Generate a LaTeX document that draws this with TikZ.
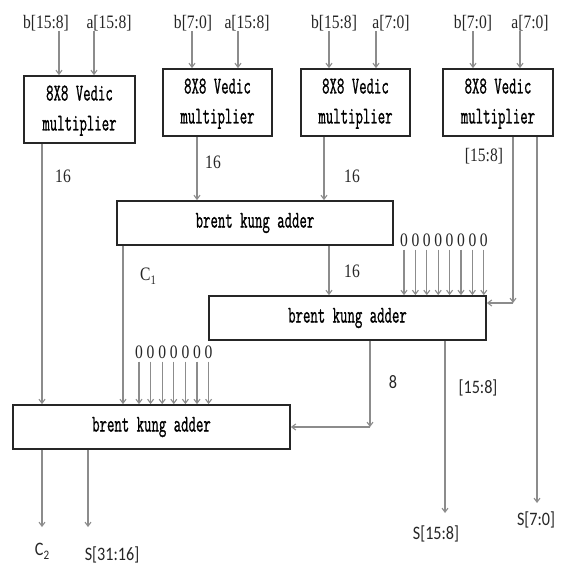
\documentclass[tikz,border=0pt]{standalone}
\usepackage{graphicx}
\usepackage{fontspec}
\setmainfont{Liberation Serif}
\newfontfamily\carl{Carlito}
\newfontfamily\monob[FakeBold=1.3]{Latin Modern Mono}
\usetikzlibrary{arrows.meta}
\newcommand\serl[1]{\scalebox{0.82}[1]{\fontsize{19}{20}\selectfont #1}}
\newcommand\sanl[1]{\scalebox{0.85}[1]{\carl\fontsize{19}{20}\selectfont #1}}
\newcommand\boxt[1]{\scalebox{0.6}[1]{\monob\fontsize{24}{30}\selectfont #1}}
\newcommand\vedic{\boxt{\begin{tabular}{@{}c@{}}8X8 Vedic\\multiplier\end{tabular}}}
\begin{document}
\begin{tikzpicture}[x=1pt,y=-1pt,
  blk/.style={draw=black!85,line width=1.8pt,rectangle,inner sep=0pt,fill=white},
  mul/.style={blk,minimum height=67pt},
  bka/.style={blk,minimum width=277pt,minimum height=44pt},
  arr/.style={draw=black!45,line width=1.1pt,-{Straight Barb[length=4pt,width=6pt]}},
  lab/.style={inner sep=0pt,text=black!85}]
\useasboundingbox (0,0) rectangle (560,564);
\fill[white] (0,0) rectangle (560,564);

% multipliers
\node[mul,minimum width=111pt] (m1) at (79.5,109.5) {\vedic};
\node[mul,minimum width=109pt] (m2) at (217.5,102.5) {\vedic};
\node[mul,minimum width=109pt] (m3) at (355.5,102.5) {\vedic};
\node[mul,minimum width=110pt] (m4) at (498,102.5) {\vedic};

% adders
\node[bka,minimum width=276pt] (bk1) at (255,223) {\boxt{brent kung adder}};
\node[bka] (bk2) at (347.5,318) {\boxt{brent kung adder}};
\node[bka] (bk3) at (151.5,427) {\boxt{brent kung adder}};

% input labels
\node[lab] (i1) at (46,23) {\serl{b[15:8]}};
\node[lab] (i2) at (109,23) {\serl{a[15:8]}};
\node[lab] (i3) at (193,23) {\serl{b[7:0]}};
\node[lab] (i4) at (247,23) {\serl{a[15:8]}};
\node[lab] (i5) at (334,23) {\serl{b[15:8]}};
\node[lab] (i6) at (391,23) {\serl{a[7:0]}};
\node[lab] (i7) at (473,23) {\serl{b[7:0]}};
\node[lab] (i8) at (530,23) {\serl{a[7:0]}};

% column coordinates
\coordinate (x1) at (59,0);  \coordinate (x2) at (94,0);
\coordinate (x3) at (192,0); \coordinate (x4) at (238,0);
\coordinate (x5) at (329,0); \coordinate (x6) at (376,0);
\coordinate (x7) at (473,0); \coordinate (x8) at (520,0);

\draw[arr] (i1.south -| x1) -- (m1.north -| x1);
\draw[arr] (i2.south -| x2) -- (m1.north -| x2);
\draw[arr] (i3.south -| x3) -- (m2.north -| x3);
\draw[arr] (i4.south -| x4) -- (m2.north -| x4);
\draw[arr] (i5.south -| x5) -- (m3.north -| x5);
\draw[arr] (i6.south -| x6) -- (m3.north -| x6);
\draw[arr] (i7.south -| x7) -- (m4.north -| x7);
\draw[arr] (i8.south -| x8) -- (m4.north -| x8);

% output labels
\node[lab] (l16a) at (63,176) {\serl{16}};
\node[lab] (l16b) at (213,162) {\serl{16}};
\node[lab] (l16c) at (352,176) {\serl{16}};
\node[lab] (l16d) at (352,271) {\serl{16}};
\node[lab] (lm4) at (484,156) {\serl{[15:8]}};
\node[lab] (lc1) at (148,276) {\serl{C\raisebox{-4pt}{\fontsize{13}{13}\selectfont 1}}};
\node[lab] (l8) at (393,382) {\sanl{8}};
\node[lab] (lb2) at (478,388) {\sanl{[15:8]}};
\node[lab] (s70) at (536,520) {\sanl{S[7:0]}};
\node[lab] (s158) at (436,534) {\sanl{S[15:8]}};
\node[lab] (c2) at (42,551) {\sanl{C\raisebox{-4pt}{\fontsize{13}{13}\selectfont 2}}};
\node[lab] (s3116) at (112,555) {\sanl{S[31:16]}};

% column coordinates for outputs
\coordinate (k1) at (42,0);  \coordinate (k2) at (197,0);
\coordinate (k3) at (324,0); \coordinate (k4) at (513,0);
\coordinate (k5) at (537,0); \coordinate (k6) at (123,0);
\coordinate (k7) at (329,0); \coordinate (k8) at (370,0);
\coordinate (k9) at (445,0); \coordinate (k10) at (88,0);
\coordinate (r1) at (0,303); \coordinate (r2) at (0,427);
\coordinate (e1) at (0,527); \coordinate (e2) at (0,503);
\coordinate (e3) at (0,513);

\draw[arr] (m1.south -| k1) -- (bk3.north -| k1);
\draw[arr] (m2.south -| k2) -- (bk1.north -| k2);
\draw[arr] (m3.south -| k3) -- (bk1.north -| k3);
\draw[arr] (m4.south -| k4) -- (r1 -| k4);
\draw[arr] (r1 -| k4) -- (r1 -| bk2.east);
\draw[arr] (m4.south -| k5) -- (e2 -| k5);

\draw[arr] (bk1.south -| k6) -- (bk3.north -| k6);
\draw[arr] (bk1.south -| k7) -- (bk2.north -| k7);

\draw[arr] (bk2.south -| k8) -- (r2 -| k8);
\draw[arr] (r2 -| k8) -- (r2 -| bk3.east);
\draw[arr] (bk2.south -| k9) -- (e3 -| k9);

\draw[arr] (bk3.south -| k1) -- (e1 -| k1);
\draw[arr] (bk3.south -| k10) -- (e1 -| k10);

% constant zero inputs
\foreach \i in {0,...,7}{
  \pgfmathsetmacro\xx{404+11.4*\i}
  \node[lab] (za\i) at (\xx,240) {\serl{0}};
  \draw[arr] (za\i.south) ++(0,3) -- (za\i.south |- bk2.north);
}
\foreach \i in {0,...,6}{
  \pgfmathsetmacro\xx{139+11.6*\i}
  \node[lab] (zb\i) at (\xx,352) {\serl{0}};
  \draw[arr] (zb\i.south) ++(0,3) -- (zb\i.south |- bk3.north);
}
\end{tikzpicture}
\end{document}
